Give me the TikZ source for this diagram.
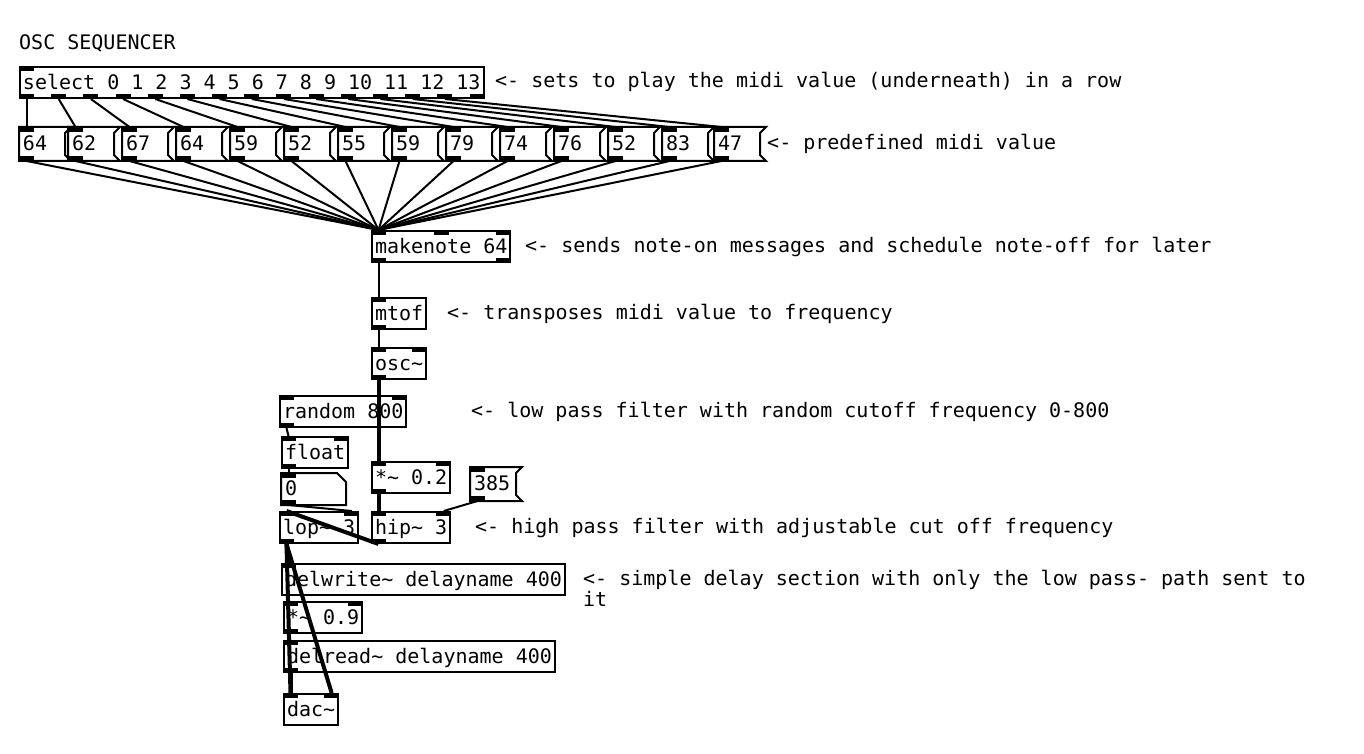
\documentclass[tikz,border=0pt]{standalone}
\usepackage{fontspec}
\newfontfamily\pdfont{DejaVu Sans Mono}
\usetikzlibrary{calc,positioning}
\newcommand{\tld}{\textasciitilde}
\tikzset{%
	pdbox/.style   = {draw, line width=2pt, rectangle, anchor=north west, minimum height=31pt, inner xsep=3pt, inner ysep=0pt, text height=17pt, text depth=3.5pt, font=\pdfont\fontsize{20}{24}\selectfont},
	msgbox/.style  = {pdbox, draw=none, minimum height=32pt, text width=38pt, align=left}, % message
	numbox/.style  = {pdbox, draw=none, minimum height=30pt, text width=57pt, align=left}, % number
	comment/.style = {anchor=west, inner sep=0pt, text height=17pt, text depth=3.5pt, font=\pdfont\fontsize{20}{21}\selectfont},
	pdline/.style  = {line width=2pt},
	ctl/.style     = {line width=2pt}, % control cord
	sig/.style     = {line width=4pt}, % signal cord
}
% inlets and outlets of a box: node, inlets, outlets
\newcommand{\pdports}[3]{%
	\ifnum#2>0
	\foreach \pp [evaluate=\pp as \tt using {(\pp-1)/max(#2-1,1)}] in {1,...,#2}{
		\coordinate (#1-i\pp) at ($(#1.north west)!\tt!(#1.north east)+({7.5-15*\tt},0)$);
		\fill ($(#1-i\pp)+(-7.5,0)$) rectangle +(15,5);
	}
	\fi
	\ifnum#3>0
	\foreach \pp [evaluate=\pp as \tt using {(\pp-1)/max(#3-1,1)}] in {1,...,#3}{
		\coordinate (#1-o\pp) at ($(#1.south west)!\tt!(#1.south east)+({7.5-15*\tt},0)$);
		\fill ($(#1-o\pp)+(-7.5,0)$) rectangle +(15,-5);
	}
	\fi
}
% flag outline of a message box
\newcommand{\pdflag}[1]{%
	\draw[pdline] (#1.north west) -- ($(#1.north east)+(6,0)$) -- ($(#1.north east)+(0,6)$) -- ($(#1.south east)+(0,-6)$) -- ($(#1.south east)+(6,0)$) -- (#1.south west) -- cycle;
}

\begin{document}
\begin{tikzpicture}[x=1pt,y=-1pt]
	\fill[white] (0,0) rectangle (1364,754);
	% sequencer
	\node[comment] (title) at (19,43) {OSC SEQUENCER};
	\node[pdbox] (sel) at (19,66) {select 0 1 2 3 4 5 6 7 8 9 10 11 12 13};
	\pdports{sel}{1}{15}
	\node[comment] (c1) at (495,81) {<- sets to play the midi value (underneath) in a row};
	\foreach \v/\x [count=\n] in {64/19,62/68,67/122,64/176,59/230,52/284,55/338,59/392,79/446,74/500,76/554,52/608,83/662,47/714}{
		\node[msgbox] (m\n) at (\x,127) {\v};
		\pdflag{m\n}
		\pdports{m\n}{1}{1}
	}
	\node[comment] (c2) at (767,143) {<- predefined midi value};
	% note and oscillator
	\node[pdbox] (mk) at (371,230) {makenote 64};
	\pdports{mk}{3}{2}
	\node[comment] (c3) at (525,246) {<- sends note-on messages and schedule note-off for later};
	\node[pdbox] (mtof) at (371,297) {mtof};
	\pdports{mtof}{1}{1}
	\node[comment] (c4) at (447,313) {<- transposes midi value to frequency};
	\node[pdbox] (osc) at (371,347) {osc\tld};
	\pdports{osc}{2}{1}
	% filters
	\node[pdbox] (rnd) at (279,395) {random 800};
	\pdports{rnd}{2}{1}
	\node[comment] (c5) at (471,411) {<- low pass filter with random cutoff frequency 0-800};
	\node[pdbox] (flt) at (281,436) {float};
	\pdports{flt}{2}{1}
	\node[numbox] (num) at (281,473) {0};
	\draw[pdline] (num.north west) -- ($(num.north east)+(-9,0)$) -- ($(num.north east)+(0,9)$) -- (num.south east) -- (num.south west) -- cycle;
	\pdports{num}{1}{1}
	\node[pdbox] (mul) at (371,461) {*\tld{} 0.2};
	\pdports{mul}{2}{1}
	\node[msgbox] (frq) at (470,467) {385};
	\pdflag{frq}
	\pdports{frq}{1}{1}
	\node[pdbox] (lop) at (279,511) {lop\tld{} 3};
	\pdports{lop}{2}{1}
	\node[pdbox] (hip) at (371,511) {hip\tld{} 3};
	\pdports{hip}{2}{1}
	\node[comment] (c6) at (475,527) {<- high pass filter with adjustable cut off frequency};
	% delay
	\node[pdbox] (dw) at (281,563) {delwrite\tld{} delayname 400};
	\pdports{dw}{1}{0}
	\node[comment, align=left, anchor=north west] (c7) at (583,589) {<- simple delay section with only the low pass- path sent to\\it};
	\node[pdbox] (fb) at (283,601) {*\tld{} 0.9};
	\pdports{fb}{2}{1}
	\node[pdbox] (dr) at (283,640) {delread\tld{} delayname 400};
	\pdports{dr}{1}{1}
	\node[pdbox] (dac) at (283,693) {dac\tld};
	\pdports{dac}{2}{0}
	% cords
	\foreach \n in {1,...,14}{
		\draw[ctl] (sel-o\n) -- (m\n-i1);
		\draw[ctl] (m\n-o1) -- (mk-i1);
	}
	\draw[ctl] (mk-o1) -- (mtof-i1);
	\draw[ctl] (mtof-o1) -- (osc-i1);
	\draw[sig] (osc-o1) -- (mul-i1);
	\draw[sig] (mul-o1) -- (hip-i1);
	\draw[ctl] (frq-o1) -- (hip-i2);
	\draw[ctl] (rnd-o1) -- (flt-i1);
	\draw[ctl] (flt-o1) -- (num-i1);
	\draw[ctl] (num-o1) -- (lop-i2);
	\draw[sig] (hip-o1) -- (lop-i1);
	\draw[sig] (lop-o1) -- (dw-i1);
	\draw[sig] (lop-o1) -- (dac-i1);
	\draw[sig] (lop-o1) -- (dac-i2);
	\draw[sig] (dr-o1) -- (dac-i1);
\end{tikzpicture}
\end{document}
